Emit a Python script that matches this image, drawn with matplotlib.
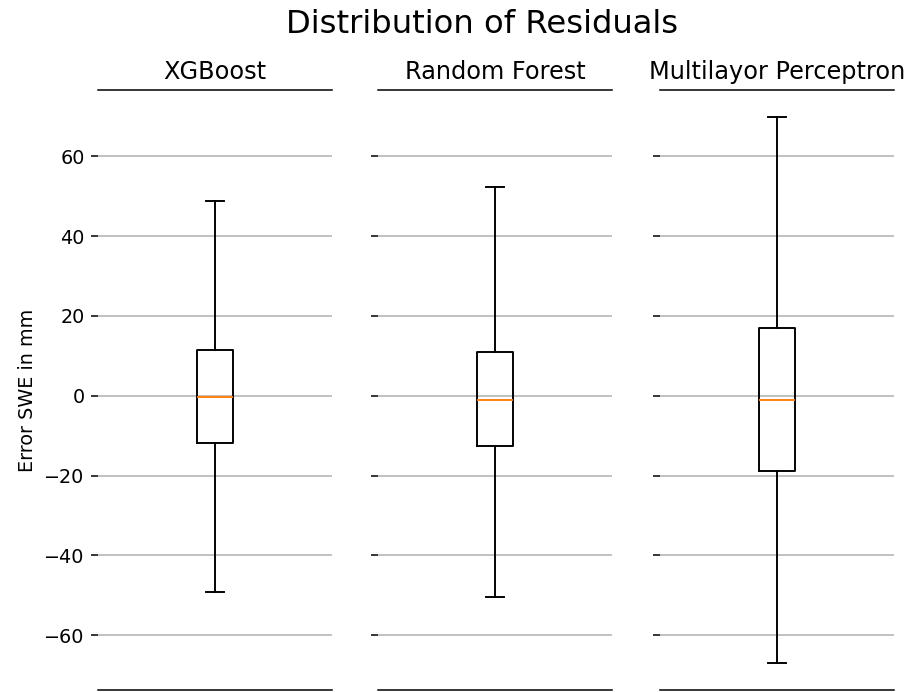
import matplotlib.pyplot as plt

# residual summary per model (mm SWE)
models = ['XGBoost', 'Random Forest', 'Multilayor Perceptron']
medians = [-0.4, -1.1, -1.1]
q1 = [-11.9, -12.6, -18.9]
q3 = [11.6, 10.9, 17.0]
whis_lo = [-49.1, -50.5, -66.9]
whis_hi = [48.8, 52.4, 69.8]

fig = plt.figure(figsize=(904 / 138, 692 / 138), dpi=138)
lefts = [98 / 904, 378 / 904, 660 / 904]
axes = []
for i, left in enumerate(lefts):
    ax = fig.add_axes([left, 0.0029, 234 / 904, 0.867],
                      sharey=axes[0] if axes else None)
    axes.append(ax)

for i, ax in enumerate(axes):
    stats = [{'med': medians[i], 'q1': q1[i], 'q3': q3[i],
              'whislo': whis_lo[i], 'whishi': whis_hi[i], 'fliers': []}]
    ax.bxp(stats, positions=[1], widths=0.15, showfliers=False)
    ax.set_xlim(0.5, 1.5)
    ax.set_title(models[i], fontsize=12.5)
    ax.set_xticks([])
    ax.spines['left'].set_visible(False)
    ax.spines['right'].set_visible(False)
    ax.yaxis.grid(True)
    ax.set_axisbelow(True)
    if i > 0:
        ax.tick_params(labelleft=False)

axes[0].set_yticks([-60, -40, -20, 0, 20, 40, 60])
axes[0].set_ylabel('Error SWE in mm')
fig.suptitle('Distribution of Residuals', fontsize=16.8, x=0.533, y=0.965,
             va='center')

fig.savefig('out.png', dpi=138)
